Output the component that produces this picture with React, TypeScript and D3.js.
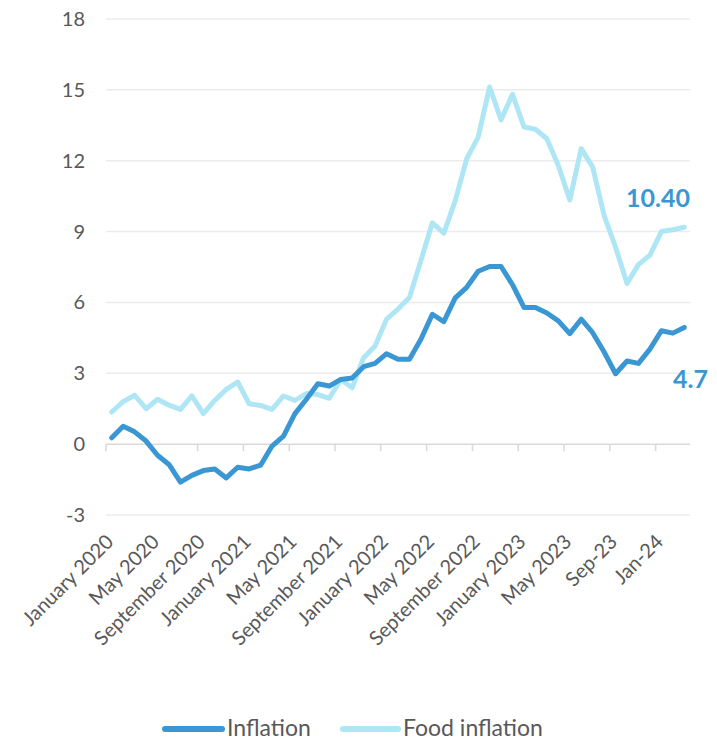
import React from "react";
import * as d3 from "d3";

const months: Date[] = d3.timeMonths(new Date(2020, 0, 1), new Date(2024, 3, 1));

const inflation: number[] = [
  0.27, 0.76, 0.52, 0.13, -0.47, -0.86, -1.61, -1.32, -1.12, -1.05, -1.43, -0.98,
  -1.05, -0.89, -0.08, 0.34, 1.29, 1.9, 2.56, 2.46, 2.74, 2.8,
  3.28, 3.42, 3.83, 3.59, 3.59, 4.44, 5.5, 5.19, 6.19, 6.64, 7.32, 7.52, 7.52, 6.75,
  5.79, 5.79, 5.55, 5.22, 4.68, 5.29, 4.72, 3.9, 2.98, 3.52, 3.42, 4.02, 4.8, 4.7, 4.94,
];

const foodInflation: number[] = [
  1.36, 1.8, 2.07, 1.5, 1.9, 1.65, 1.47, 2.04, 1.29, 1.85, 2.32, 2.63,
  1.71, 1.64, 1.47, 2.04, 1.85, 2.14, 2.1, 1.94, 2.74, 2.39,
  3.66, 4.16, 5.29, 5.72, 6.21, 7.77, 9.37, 8.93, 10.31, 12.08, 13.0, 15.12, 13.73, 14.81,
  13.43, 13.33, 12.93, 11.8, 10.34, 12.51, 11.73, 9.68, 8.34, 6.8, 7.6, 8.0, 9.0, 9.08, 9.18,
];

const tickLabels: string[] = [
  "January 2020", "May 2020", "September 2020", "January 2021", "May 2021",
  "September 2021", "January 2022", "May 2022", "September 2022", "January 2023",
  "May 2023", "Sep-23", "Jan-24",
];

const yTicks: number[] = [-3, 0, 3, 6, 9, 12, 15, 18];
const seriesNames: string[] = ["Inflation", "Food inflation"];
const endLabels: string[] = ["4.7", "10.40"];

const W = 717;
const H = 740;
const DARK = "#3a97d4";
const LIGHT = "#aee6f5";
const FONT = "Lato, 'Open Sans', sans-serif";
const TXT = "#595959";

export default function App() {
  const x = d3
    .scaleBand<number>()
    .domain(months.map((_, i) => i))
    .range([106, 690])
    .paddingInner(0)
    .paddingOuter(0);
  const bw = x.bandwidth();
  const cx = (i: number) => (x(i) as number) + bw / 2;
  const y = d3.scaleLinear().domain([-3, 18]).range([515, 19]);

  const line = d3
    .line<number>()
    .x((_, i) => cx(i))
    .y((d) => y(d))
    .curve(d3.curveLinear);

  const tickIdx = tickLabels.map((_, k) => k * 4);

  return (
    <svg
      width={W}
      height={H}
      style={{ position: "absolute", left: 0, top: 0, background: "#fff" }}
      fontFamily={FONT}
    >
      {yTicks.map((t) => (
        <g key={t}>
          {t !== 0 && (
            <line x1={106} x2={690} y1={y(t)} y2={y(t)} stroke="#ececec" strokeWidth={1.5} />
          )}
          <text x={85} y={y(t)} dy="0.35em" textAnchor="end" fontSize={20} fill={TXT}>
            {t}
          </text>
        </g>
      ))}
      <line x1={106} x2={690} y1={y(0)} y2={y(0)} stroke="#d9d9d9" strokeWidth={1.5} />
      {tickIdx.map((i) => (
        <line
          key={"t" + i}
          x1={x(i) as number}
          x2={x(i) as number}
          y1={y(0)}
          y2={y(0) + 7}
          stroke="#d9d9d9"
          strokeWidth={1.5}
        />
      ))}
      {tickIdx.map((i, k) => {
        const px = cx(i) + 3;
        const py = 543;
        return (
          <text
            key={"l" + i}
            x={px}
            y={py}
            textAnchor="end"
            fontSize={20}
            fill={TXT}
            transform={`rotate(-45 ${px} ${py})`}
          >
            {tickLabels[k]}
          </text>
        );
      })}
      <path d={line(foodInflation) || ""} fill="none" stroke={LIGHT} strokeWidth={5} strokeLinejoin="round" strokeLinecap="round" />
      <path d={line(inflation) || ""} fill="none" stroke={DARK} strokeWidth={5} strokeLinejoin="round" strokeLinecap="round" />

      <text x={690} y={207} textAnchor="end" fontSize={25} fontWeight={700} fill={DARK}>
        {endLabels[1]}
      </text>
      <text x={708} y={388} textAnchor="end" fontSize={25} fontWeight={700} fill={DARK}>
        {endLabels[0]}
      </text>

      <line x1={165} x2={222} y1={729} y2={729} stroke={DARK} strokeWidth={6} strokeLinecap="round" />
      <text x={227} y={736} fontSize={23} fill={TXT}>{seriesNames[0]}</text>
      <line x1={343} x2={398} y1={729} y2={729} stroke={LIGHT} strokeWidth={6} strokeLinecap="round" />
      <text x={403} y={736} fontSize={23} fill={TXT}>{seriesNames[1]}</text>
    </svg>
  );
}
